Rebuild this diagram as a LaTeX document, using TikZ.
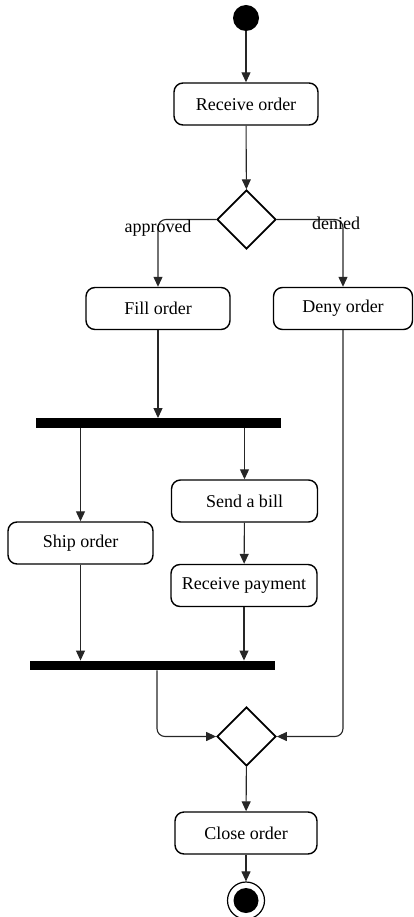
\documentclass[tikz,border=0pt]{standalone}
\usepackage{fontspec}
\setmainfont{Liberation Serif}
\usetikzlibrary{arrows.meta,shapes.geometric,calc}
\tikzset{x=1pt,y=-1pt,
    every node/.style={font=\fontsize{18}{20}\selectfont},
    action/.style={draw,line width=1.4pt,rounded corners=9pt,
        minimum width=144pt,minimum height=42pt,inner sep=2pt},
    choice/.style={draw,diamond,line width=1.7pt,
        minimum width=59pt,minimum height=59pt,inner sep=0pt},
    syncbar/.style={fill=black,minimum width=245pt,minimum height=9.5pt,inner sep=0pt},
    flow/.style={draw=black!85,line width=1.1pt,-{Triangle[length=10pt,width=9pt]}},
    }
\begin{document}
\begin{tikzpicture}
\useasboundingbox (0,0) rectangle (413,917);
\node[circle,fill=black,minimum size=26pt,inner sep=0pt] (start) at (246,18) {};
\node[action] (receive) at (246,104) {Receive order};
\node[choice] (decide) at (246.5,219.5) {};
\node[action] (fill) at (158,308.5) {Fill order};
\node[action,minimum width=139pt] (deny) at (343,308.5) {Deny order};
\node[syncbar] (fork) at (158.5,423) {};
\node[action,minimum width=146pt] (bill) at (244.5,501) {Send a bill};
\node[action,minimum width=145pt] (ship) at (80.5,543) {Ship order};
\node[action,minimum width=146pt] (pay) at (244,585.5) {Receive payment};
\node[syncbar] (join) at (152.5,665.5) {};
\node[choice] (merge) at (246.5,736.5) {};
\node[action,minimum width=142pt] (close) at (246,833) {Close order};
\node[circle,draw,line width=1.2pt,minimum size=37pt,inner sep=0pt] (end) at (246,900.5) {};
\node[circle,fill=black,minimum size=25pt,inner sep=0pt] at (end) {};

\draw[flow] (start) -- (receive);
\draw[flow] (receive) -- (decide);
\draw[flow,rounded corners=8pt] (decide.west) -| (fill.north)
    node[pos=0.5,below,inner sep=0pt] {approved};
\draw[flow,rounded corners=8pt] (decide.east) -| (deny.north)
    node[pos=0.5,below,inner sep=0pt,xshift=-7pt,yshift=3pt] {denied};
\draw[flow] (fill) -- (fill |- fork.north);
\draw[flow] (ship |- fork.south) -- (ship);
\draw[flow] (bill |- fork.south) -- (bill);
\draw[flow] (bill) -- (pay);
\draw[flow] (ship) -- (ship |- join.north);
\draw[flow] (pay) -- (pay |- join.north);
\draw[flow,rounded corners=8pt] ([xshift=4.5pt]join.south) |- (merge.west);
\draw[flow,rounded corners=8pt] (deny) |- (merge.east);
\draw[flow] (merge) -- (close);
\draw[flow] (close) -- (end);
\end{tikzpicture}
\end{document}
